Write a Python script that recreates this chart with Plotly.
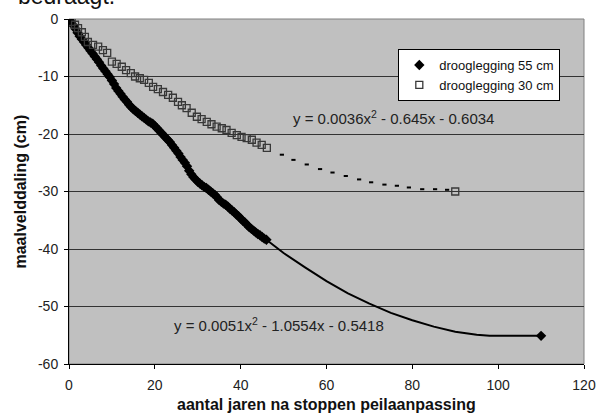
import plotly.graph_objects as go

# ---- data ----
# drooglegging 55 cm : measured series (dense diamonds)
x55 = [0, 0.5, 1, 1.5, 2, 2.5, 3, 3.5, 4, 4.5, 5, 5.5, 6, 6.5, 7, 7.5, 8, 8.5, 9, 9.5,
       10, 10.5, 11, 11.5, 12, 12.5, 13, 13.5, 14, 14.5, 15, 15.5, 16, 16.5, 17, 17.5,
       18, 18.5, 19, 19.5, 20, 20.5, 21, 21.5, 22, 22.5, 23, 23.5, 24, 24.5, 25, 25.5,
       26, 26.5, 27, 27.5, 28, 28.5, 29, 29.5, 30, 30.5, 31, 31.5, 32, 32.5, 33, 33.5,
       34, 34.5, 35, 35.5, 36, 36.5, 37, 37.5, 38, 38.5, 39, 39.5, 40, 40.5, 41, 41.5,
       42, 42.5, 43, 43.5, 44, 44.5, 45, 45.5, 46]
y55 = [0, -0.5, -1.1, -1.7, -2.4, -3.0, -3.5, -4.0, -4.5, -5.0, -5.5, -6.0, -6.5, -7.0,
       -7.5, -8.1, -8.6, -9.1, -9.6, -10.1, -10.7, -11.3, -12.0, -12.5, -13.0, -13.5,
       -14.0, -14.4, -14.9, -15.3, -15.7, -16.0, -16.3, -16.6, -16.9, -17.2, -17.5,
       -17.8, -18.0, -18.2, -18.6, -19.0, -19.4, -19.8, -20.2, -20.6, -21.0, -21.4,
       -21.9, -22.4, -22.9, -23.4, -24.0, -24.5, -25.0, -25.6, -26.4, -27.0, -27.5,
       -27.9, -28.3, -28.6, -28.9, -29.2, -29.4, -29.7, -30.0, -30.3, -30.6, -31.0,
       -31.5, -31.8, -32.1, -32.3, -32.6, -33.0, -33.3, -33.6, -34.0, -34.3, -34.7,
       -35.1, -35.4, -35.8, -36.2, -36.5, -36.8, -37.1, -37.4, -37.6, -37.9, -38.2, -38.4]
# drooglegging 55 cm : continuation line
x55_ext = [46, 50, 55, 60, 65, 70, 75, 80, 85, 90, 95, 98, 110]
y55_ext = [-38.4, -40.7, -43.2, -45.6, -47.7, -49.5, -51.1, -52.4, -53.5, -54.4, -54.9, -55.1, -55.1]
x55_end = [110]
y55_end = [-55.1]

# drooglegging 30 cm : measured series (open squares)
x30 = [0.6, 1.4, 2.1, 3.0, 3.7, 4.4, 5.6, 6.8, 7.9, 8.9, 10.0, 11.1, 12.3, 13.3, 14.4,
       15.4, 16.5, 17.5, 18.6, 19.6, 20.7, 21.9, 23.1, 24.2, 25.4, 26.3, 27.4, 28.6,
       29.8, 30.9, 32.1, 33.2, 34.4, 35.6, 36.7, 37.9, 39.1, 40.2, 41.4, 42.6, 43.7,
       44.9, 46.1]
y30 = [-0.5, -1.0, -1.6, -2.3, -3.1, -4.0, -4.5, -4.8, -5.4, -5.9, -7.4, -7.8, -8.3,
       -8.9, -9.4, -10.0, -10.3, -10.6, -11.1, -11.8, -12.2, -12.7, -13.2, -13.7, -14.4,
       -15.0, -15.5, -16.3, -17.0, -17.4, -17.9, -18.3, -18.7, -19.0, -19.3, -19.8,
       -20.2, -20.5, -20.7, -21.0, -21.5, -21.9, -22.4]
# drooglegging 30 cm : extrapolation (small dashes)
x30_ext = [49.6, 52.3, 55.4, 58.5, 61.4, 64.5, 67.6, 70.4, 73.5, 76.4, 79.2, 82.3, 85.3, 88.1]
y30_ext = [-23.6, -24.5, -25.3, -26.1, -26.7, -27.3, -27.9, -28.4, -28.8, -29.0, -29.3,
           -29.6, -29.6, -29.7]
x30_end = [90]
y30_end = [-30.0]

x_ticks = [0, 20, 40, 60, 80, 100, 120]
y_ticks = [0, -10, -20, -30, -40, -50, -60]

name55 = "drooglegging 55 cm"
name30 = "drooglegging 30 cm"
eq55 = "y = 0.0051x<sup>2</sup> - 1.0554x - 0.5418"
eq30 = "y = 0.0036x<sup>2</sup> - 0.645x - 0.6034"
x_title = "aantal jaren na stoppen peilaanpassing"
y_title = "maalvelddaling (cm)"
top_text = "bedraagt."

FONT = "Liberation Sans, Arial, sans-serif"

fig = go.Figure()

# 55 cm line through measured and continuation
fig.add_trace(go.Scatter(x=x55 + x55_ext[1:], y=y55 + y55_ext[1:], mode="lines",
                         line=dict(color="black", width=2), showlegend=False,
                         hoverinfo="skip"))
fig.add_trace(go.Scatter(x=x55, y=y55, mode="markers", name=name55,
                         marker=dict(symbol="diamond", size=8, color="black",
                                     line=dict(width=0))))
fig.add_trace(go.Scatter(x=x55_end, y=y55_end, mode="markers", showlegend=False,
                         marker=dict(symbol="diamond", size=8, color="black",
                                     line=dict(width=0))))

# 30 cm
fig.add_trace(go.Scatter(x=x30, y=y30, mode="markers", name=name30,
                         marker=dict(symbol="square", size=7, color="rgba(0,0,0,0)",
                                     line=dict(width=1.3, color="#383838"))))
fig.add_trace(go.Scatter(x=x30_ext, y=y30_ext, mode="markers", showlegend=False,
                         marker=dict(symbol="line-ew", size=3, color="black",
                                     line=dict(width=2, color="black"))))
fig.add_trace(go.Scatter(x=x30_end, y=y30_end, mode="markers", showlegend=False,
                         marker=dict(symbol="square", size=7, color="rgba(0,0,0,0)",
                                     line=dict(width=1.3, color="#383838"))))

fig.update_layout(
    width=597, height=413,
    margin=dict(l=69, r=13, t=19, b=49, autoexpand=False),
    paper_bgcolor="white", plot_bgcolor="#c0c0c0",
    font=dict(family=FONT, size=12, color="#222"),
    legend=dict(x=0.954, y=0.913, xanchor="right", yanchor="top",
                bgcolor="white", bordercolor="black", borderwidth=1,
                font=dict(size=13, color="#111"), itemwidth=30,
                tracegroupgap=0, traceorder="normal"),
    xaxis=dict(range=[0, 120], tickvals=x_ticks, ticktext=[str(v) for v in x_ticks],
               showgrid=False, zeroline=False, showline=True, linecolor="black",
               linewidth=1, ticks="outside", ticklen=4, tickcolor="black",
               ticklabelstandoff=4,
               automargin=False, tickfont=dict(size=14, color="#222")),
    yaxis=dict(range=[-60, 0], tickvals=y_ticks, ticktext=[str(v) for v in y_ticks],
               showgrid=True, gridcolor="#333", gridwidth=1, zeroline=False,
               showline=True, linecolor="black", linewidth=1, ticks="outside",
               automargin=False, ticklen=4, tickcolor="black", ticklabelstandoff=3,
               tickfont=dict(size=14, color="#222")),
    shapes=[dict(type="rect", xref="paper", yref="paper", x0=0, x1=1, y0=0, y1=1,
                 line=dict(color="#808080", width=1), layer="below")],
    annotations=[
        dict(text=eq30, x=(291 - 69) / 515 * 120, y=-17.2, xref="x", yref="y",
             xanchor="left", yanchor="middle", showarrow=False,
             font=dict(size=15, color="#222")),
        dict(text=eq55, x=(172 - 69) / 515 * 120, y=-53.1, xref="x", yref="y",
             xanchor="left", yanchor="middle", showarrow=False,
             font=dict(size=15, color="#222")),
        dict(text="<b>" + x_title + "</b>", x=0.5, y=-0.118, xref="paper", yref="paper",
             xanchor="center", yanchor="middle", showarrow=False,
             font=dict(size=16, color="#111")),
        dict(text="<b>" + y_title + "</b>", x=-0.095, y=0.5, xref="paper", yref="paper",
             xanchor="center", yanchor="middle", showarrow=False, textangle=-90,
             font=dict(size=16, color="#111")),
        dict(text=top_text, x=-0.102, y=1.022, xref="paper", yref="paper",
             xanchor="left", yanchor="bottom", showarrow=False,
             font=dict(size=23, color="#111")),
    ],
)

fig.write_html("out.html", config={"displayModeBar": False},
               post_script="document.body.style.margin='0px';")
